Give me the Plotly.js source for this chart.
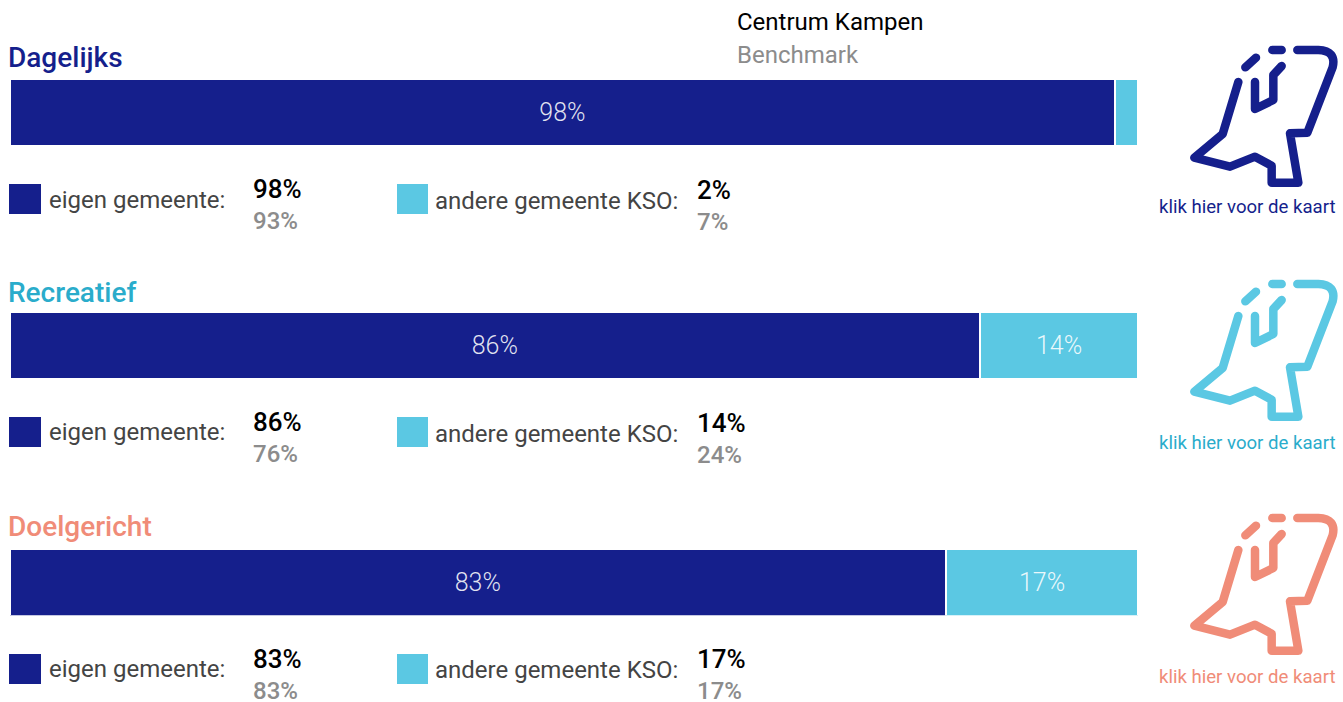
<!DOCTYPE html>
<html><head><meta charset="utf-8">
<script src="https://cdn.plot.ly/plotly-3.0.1.min.js"></script>
<style>html,body{margin:0;padding:0;background:#fff;overflow:hidden}#c{width:1343px;height:702px}
.shapelayer path{stroke-linecap:round;stroke-linejoin:round}</style>
</head><body><div id="c"></div>
<script>
const categories = ['Dagelijks', 'Recreatief', 'Doelgericht'];
const eigenGemeente = [98, 86, 83];
const andereGemeente = [2, 14, 17];
const benchmarkEigen = [93, 76, 83];
const benchmarkAndere = [7, 24, 17];
const seriesNames = ['eigen gemeente', 'andere gemeente KSO'];
const legendLabels = ['eigen gemeente:', 'andere gemeente KSO:'];
const headerLabels = ['Centrum Kampen', 'Benchmark'];
const linkLabel = 'klik hier voor de kaart';

const W = 1343, H = 702, FONT = 'Roboto, sans-serif';
const NAVY = '#151f8c', CYAN = '#5bc8e3';
const titleColors = ['#151f8c', '#2aaccb', '#f08c78'];
const iconColors = ['#151f8c', '#5bc8e3', '#f08c78'];
const linkColors = ['#151f8c', '#2aaccb', '#f08c78'];
const barTop = [79, 312, 548.5], barH = 67;
const titleY = [58, 292.5, 526.5], linkY = [206.5, 442.5, 676.5], iconDy = [0, 234, 468];
const sqTop = [184, 417, 654];
const labY = [[200, 201], [432, 433.5], [669, 669.5]];
const valY = [[189, 221, 190, 222], [422, 454, 423, 455], [659, 691, 659, 691]];

const px = x => x / W, py = y => 1 - y / H;
const ax = (text, x, y, size, color, anchor, weight) => ({
  text, x: px(x), y: py(y), xref: 'paper', yref: 'paper', xanchor: anchor || 'left', yanchor: 'middle',
  showarrow: false, borderpad: 0, font: {family: FONT, size, color, weight: weight || 400}
});

const data = [], annotations = [], shapes = [], layout = {};
const yName = i => i === 0 ? 'y' : 'y' + (i + 1);
const yKey = i => i === 0 ? 'yaxis' : 'yaxis' + (i + 1);
const pctText = v => v >= 5 ? v + '%' : '';

categories.forEach((cat, i) => {
  [[eigenGemeente, NAVY, seriesNames[0]], [andereGemeente, CYAN, seriesNames[1]]].forEach(([arr, col, nm]) => {
    data.push({
      type: 'bar', orientation: 'h', name: nm, y: [cat], x: [arr[i]], yaxis: yName(i), xaxis: 'x',
      width: 1, marker: {color: col, line: {color: '#ffffff', width: 2}},
      text: [pctText(arr[i])], textposition: 'inside', insidetextanchor: 'middle', constraintext: 'none',
      textangle: 0, insidetextfont: {family: FONT, size: 25, color: 'rgba(255,255,255,0.88)', weight: 300},
      hoverinfo: 'x+name', showlegend: false
    });
  });
  layout[yKey(i)] = {
    domain: [py(barTop[i] + barH), py(barTop[i])], type: 'category', range: [-0.5, 0.5],
    showticklabels: false, ticks: '', showgrid: false, zeroline: false, showline: false, anchor: 'x', fixedrange: true
  };
  annotations.push(ax(cat, 6.5, titleY[i], 28, titleColors[i], 'left', 500));
  annotations.push(ax(linkLabel, 1247, linkY[i], 18.6, linkColors[i], 'center'));
  annotations.push(ax(legendLabels[0], 47.5, labY[i][0], 24, '#444444'));
  annotations.push(ax(legendLabels[1], 434, labY[i][1], 24, '#444444'));
  annotations.push(ax(eigenGemeente[i] + '%', 251.5, valY[i][0], 26, '#000000', 'left', 500));
  annotations.push(ax(benchmarkEigen[i] + '%', 251.5, valY[i][1], 24, '#8c8c8c', 'left', 500));
  annotations.push(ax(andereGemeente[i] + '%', 695.5, valY[i][2], 26, '#000000', 'left', 500));
  annotations.push(ax(benchmarkAndere[i] + '%', 695.5, valY[i][3], 24, '#8c8c8c', 'left', 500));

  [[9, NAVY, 32], [397, CYAN, 31]].forEach(([x0, col, w]) => shapes.push({
    type: 'rect', xref: 'paper', yref: 'paper', x0: px(x0), x1: px(x0 + w), y0: py(sqTop[i] + 30), y1: py(sqTop[i]),
    fillcolor: col, line: {width: 0}
  }));

  // map icon, drawn as decoration in page pixels converted to paper space
  const P = (x, y) => `${(1150 + x / 3) / W} ${1 - (30 + y / 3 + iconDy[i]) / H}`;
  const paths = [
    `M ${P(442,60)} L ${P(505,60)} Q ${P(560,62)} ${P(548,112)} L ${P(472,308)} L ${P(420,310)} L ${P(445,458)} L ${P(365,458)} L ${P(365,407)} L ${P(315,380)} L ${P(240,410)} L ${P(133,383)} L ${P(218,312)} L ${P(265,156)}`,
    `M ${P(367,60)} L ${P(395,60)}`,
    `M ${P(286,112)} L ${P(318,83)}`,
    `M ${P(315,156)} L ${P(315,237)} L ${P(370,210)} L ${P(370,135)} L ${P(395,108)}`
  ];
  paths.forEach(path => shapes.push({
    type: 'path', xref: 'paper', yref: 'paper', path, fillcolor: 'rgba(0,0,0,0)',
    line: {color: iconColors[i], width: 8.5}
  }));
});

annotations.push(ax(headerLabels[0], 735.5, 22, 24, '#000000'));
annotations.push(ax(headerLabels[1], 735.5, 55, 24, '#8c8c8c'));

Object.assign(layout, {
  width: W, height: H, margin: {l: 0, r: 0, t: 0, b: 0},
  paper_bgcolor: '#ffffff', plot_bgcolor: '#ffffff', barmode: 'stack', showlegend: false,
  xaxis: {domain: [px(9.5), px(1138)], range: [0, 100], showticklabels: false, ticks: '', showgrid: false, zeroline: false, showline: false, fixedrange: true},
  annotations, shapes, font: {family: FONT}
});
Plotly.newPlot('c', data, layout, {displayModeBar: false, responsive: false});
</script></body></html>
